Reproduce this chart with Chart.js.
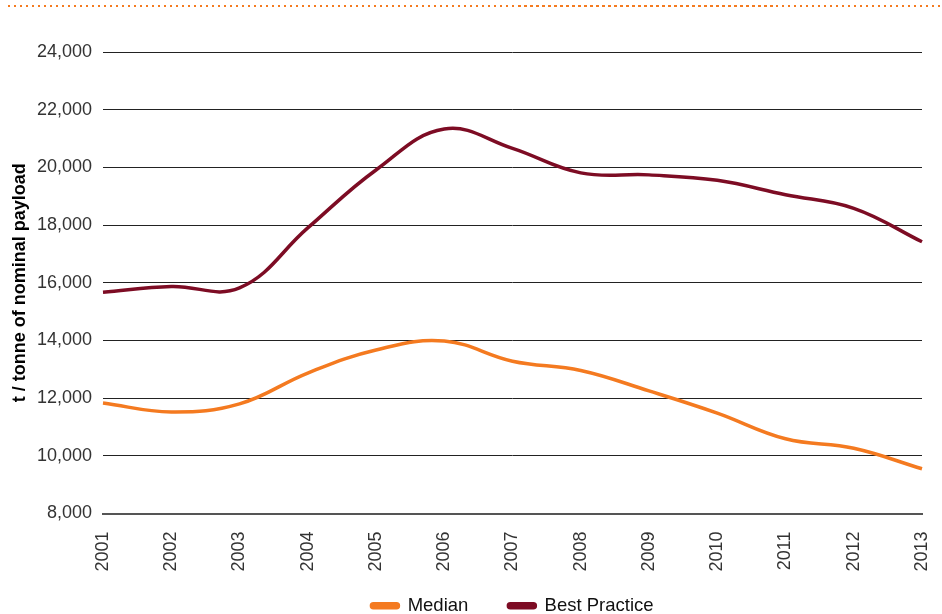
<!DOCTYPE html>
<html>
<head>
<meta charset="utf-8">
<script src="https://cdn.jsdelivr.net/npm/chart.js@4"></script>
<style>
    html, body { margin: 0; padding: 0; background: #fff; overflow: hidden; }
    #wrap { position: relative; width: 942px; height: 642px; }
    #dots {
        position: absolute; top: 5px; left: 8px; right: 0; height: 2px;
        background: repeating-linear-gradient(to right, #f47b20 0 2.5px, transparent 2.5px 6px);
    }
</style>
</head>
<body>
<div id="wrap">
    <div id="dots"></div>
    <canvas id="payload-chart"></canvas>
</div>
<script>
// Cost per tonne of nominal payload, 2001-2013
const years = ['2001', '2002', '2003', '2004', '2005', '2006', '2007', '2008', '2009', '2010', '2011', '2012', '2013'];
const median = [11830, 11520, 11800, 12870, 13670, 13980, 13280, 12960, 12250, 11480, 10590, 10260, 9550];
const bestPractice = [15670, 15870, 15820, 17900, 19910, 21330, 20660, 19810, 19740, 19550, 19050, 18580, 17420];

const ORANGE = '#f47a20';
const MAROON = '#7d0c24';
const FONT = 'Liberation Sans, Arial, sans-serif';

// pull the legend up a bit so it sits just under the year labels
const legendShift = {
    id: 'legendShift',
    afterLayout: function(chart) {
        if (chart.legend) {
            chart.legend.top -= 17;
            chart.legend.bottom -= 17;
        }
    }
};

document.addEventListener('DOMContentLoaded', function() {
    createPayloadChart();
});

function createPayloadChart() {
    const ctx = document.getElementById('payload-chart').getContext('2d');

    const data = {
        labels: years,
        datasets: [
            {
                label: 'Median',
                data: median,
                borderColor: ORANGE,
                backgroundColor: ORANGE,
                borderWidth: 3.5,
                tension: 0.4,
                pointRadius: 0,
                fill: false
            },
            {
                label: 'Best Practice',
                data: bestPractice,
                borderColor: MAROON,
                backgroundColor: MAROON,
                borderWidth: 3.5,
                tension: 0.4,
                pointRadius: 0,
                fill: false
            }
        ]
    };

    const config = {
        type: 'line',
        data: data,
        plugins: [legendShift],
        options: {
            responsive: true,
            maintainAspectRatio: false,
            animation: false,
            layout: {
                padding: { top: 52, right: 20, bottom: 0, left: 5 }
            },
            plugins: {
                legend: {
                    position: 'bottom',
                    fullSize: false,
                    labels: {
                        color: '#111',
                        font: { family: FONT, size: 18.5 },
                        boxWidth: 27,
                        boxHeight: 4,
                        padding: 40,
                        useBorderRadius: true,
                        borderRadius: 2
                    }
                },
                tooltip: { enabled: false }
            },
            scales: {
                x: {
                    offset: false,
                    grid: { display: false, drawTicks: false },
                    border: { display: true, color: '#555', width: 2 },
                    ticks: {
                        color: '#333',
                        font: { family: FONT, size: 18 },
                        minRotation: 90,
                        maxRotation: 90,
                        padding: 18
                    },
                    afterFit: function(scale) {
                        scale.height = 60;
                        scale.paddingLeft = 0;
                        scale.paddingRight = 0;
                    }
                },
                y: {
                    min: 8000,
                    max: 24000,
                    grid: { color: '#222', lineWidth: 1, drawTicks: false },
                    border: { display: false },
                    ticks: {
                        stepSize: 2000,
                        color: '#333',
                        padding: 11,
                        font: { family: FONT, size: 18 },
                        callback: function(value) {
                            return value.toLocaleString('en-US');
                        }
                    },
                    title: {
                        display: true,
                        text: 't / tonne of nominal payload',
                        color: '#000',
                        font: { family: FONT, size: 18, weight: 'bold' },
                        padding: { top: 4, bottom: 4 }
                    },
                    afterFit: function(scale) {
                        scale.width = 98;
                    }
                }
            }
        }
    };

    new Chart(ctx, config);
}
</script>
</body>
</html>
